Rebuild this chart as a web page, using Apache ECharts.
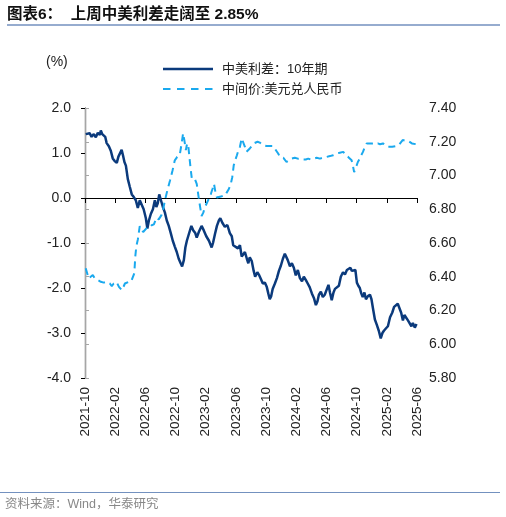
<!DOCTYPE html>
<html><head><meta charset="utf-8">
<script src="https://cdn.jsdelivr.net/npm/echarts@6/dist/echarts.min.js"></script>
<style>html,body{margin:0;padding:0;background:#fff}#c{width:506px;height:517px}</style>
</head><body><div id="c"></div>
<script>
const titleText = '图表6：  上周中美利差走阔至 2.85%';
const sourceText = '资料来源：Wind，华泰研究';
const seriesNames = ['中美利差：10年期', '中间价:美元兑人民币'];
const seriesColors = ['#0b3a7c', '#1aa9ee'];

const spreadDates = ['2021-10-04','2021-10-12','2021-10-20','2021-10-28','2021-11-06','2021-11-14','2021-11-22','2021-11-30','2021-12-04','2021-12-10','2021-12-16','2021-12-22','2021-12-28','2022-01-06','2022-01-14','2022-01-22','2022-01-30','2022-02-07','2022-02-13','2022-02-18','2022-02-25','2022-03-02','2022-03-08','2022-03-14','2022-03-22','2022-03-30','2022-04-07','2022-04-15','2022-04-23','2022-05-01','2022-05-09','2022-05-17','2022-05-25','2022-06-03','2022-06-09','2022-06-15','2022-06-23','2022-07-01','2022-07-09','2022-07-15','2022-07-21','2022-07-27','2022-08-03','2022-08-11','2022-08-19','2022-08-27','2022-09-04','2022-09-12','2022-09-20','2022-09-28','2022-10-06','2022-10-14','2022-10-22','2022-10-28','2022-11-04','2022-11-10','2022-11-16','2022-11-24','2022-12-04','2022-12-12','2022-12-20','2022-12-26','2023-01-04','2023-01-15','2023-01-24','2023-02-03','2023-02-13','2023-02-23','2023-02-28','2023-03-08','2023-03-16','2023-03-24','2023-03-30','2023-04-07','2023-04-17','2023-04-27','2023-05-07','2023-05-15','2023-05-21','2023-05-29','2023-06-09','2023-06-17','2023-06-24','2023-07-01','2023-07-07','2023-07-15','2023-07-21','2023-07-27','2023-08-04','2023-08-12','2023-08-18','2023-08-27','2023-09-04','2023-09-12','2023-09-18','2023-09-26','2023-10-04','2023-10-10','2023-10-16','2023-10-22','2023-10-28','2023-11-06','2023-11-14','2023-11-22','2023-11-30','2023-12-08','2023-12-16','2023-12-22','2023-12-28','2024-01-06','2024-01-14','2024-01-22','2024-01-30','2024-02-07','2024-02-15','2024-02-23','2024-03-01','2024-03-09','2024-03-17','2024-03-25','2024-04-03','2024-04-11','2024-04-19','2024-04-25','2024-05-01','2024-05-09','2024-05-17','2024-05-25','2024-06-03','2024-06-09','2024-06-15','2024-06-22','2024-06-29','2024-07-05','2024-07-13','2024-07-21','2024-07-29','2024-08-07','2024-08-15','2024-08-23','2024-08-31','2024-09-06','2024-09-12','2024-09-18','2024-09-26','2024-10-02','2024-10-08','2024-10-14','2024-10-20','2024-10-26','2024-11-02','2024-11-08','2024-11-16','2024-11-24','2024-11-30','2024-12-06','2024-12-14','2024-12-22','2024-12-30','2025-01-07','2025-01-14','2025-01-20','2025-01-28','2025-02-05','2025-02-13','2025-02-21','2025-02-28','2025-03-07','2025-03-15','2025-03-23','2025-03-29','2025-04-05','2025-04-11','2025-04-17','2025-04-25','2025-05-03','2025-05-09','2025-05-15','2025-05-23','2025-05-30'];
const spreadValues = [1.42,1.38,1.44,1.36,1.42,1.35,1.45,1.40,1.50,1.42,1.46,1.36,1.22,1.15,1.05,0.88,0.82,0.78,0.92,0.95,1.07,0.95,0.80,0.72,0.42,0.25,0.08,0.02,-0.05,-0.22,-0.05,-0.02,-0.25,-0.45,-0.68,-0.50,-0.35,-0.25,-0.05,-0.20,-0.12,0.08,-0.05,-0.20,-0.32,-0.50,-0.62,-0.78,-0.95,-1.08,-1.20,-1.35,-1.45,-1.52,-1.38,-1.10,-0.95,-0.80,-0.62,-0.72,-0.78,-0.88,-0.75,-0.62,-0.72,-0.85,-0.95,-1.10,-1.00,-0.80,-0.62,-0.50,-0.45,-0.55,-0.64,-0.60,-0.78,-0.85,-1.05,-1.02,-1.12,-1.05,-1.30,-1.25,-1.20,-1.35,-1.45,-1.32,-1.40,-1.62,-1.75,-1.65,-1.72,-1.82,-1.90,-1.88,-1.98,-2.12,-2.25,-2.18,-2.02,-1.90,-1.78,-1.62,-1.50,-1.35,-1.24,-1.28,-1.38,-1.52,-1.45,-1.55,-1.72,-1.60,-1.78,-1.85,-1.75,-1.82,-1.90,-1.98,-2.12,-2.22,-2.38,-2.30,-2.15,-2.08,-2.20,-2.15,-2.02,-1.93,-2.10,-2.27,-2.10,-2.02,-2.05,-1.95,-1.75,-1.65,-1.70,-1.60,-1.62,-1.55,-1.62,-1.58,-1.60,-1.88,-1.95,-2.00,-2.12,-2.20,-2.10,-2.25,-2.18,-2.15,-2.25,-2.45,-2.70,-2.82,-2.95,-3.12,-3.00,-2.95,-2.90,-2.85,-2.65,-2.55,-2.42,-2.45,-2.35,-2.38,-2.55,-2.72,-2.60,-2.62,-2.72,-2.68,-2.85,-2.78,-2.88,-2.80];

const cnyDates = ['2021-10-04','2021-10-10','2021-10-16','2021-10-24','2021-11-02','2021-11-10','2021-11-22','2021-12-04','2021-12-16','2021-12-28','2022-01-10','2022-01-18','2022-01-26','2022-02-06','2022-02-15','2022-02-26','2022-03-04','2022-03-10','2022-03-18','2022-03-26','2022-04-04','2022-04-11','2022-04-17','2022-04-21','2022-04-25','2022-05-01','2022-05-09','2022-05-17','2022-05-23','2022-05-29','2022-06-07','2022-06-15','2022-06-26','2022-07-05','2022-07-16','2022-07-25','2022-08-05','2022-08-12','2022-08-19','2022-08-29','2022-09-09','2022-09-19','2022-09-28','2022-10-08','2022-10-18','2022-10-26','2022-11-01','2022-11-06','2022-11-12','2022-11-17','2022-11-22','2022-12-01','2022-12-06','2022-12-12','2022-12-18','2022-12-26','2023-01-05','2023-01-15','2023-01-22','2023-01-28','2023-02-06','2023-02-12','2023-02-20','2023-02-26','2023-03-04','2023-03-10','2023-03-16','2023-03-24','2023-04-01','2023-04-09','2023-04-17','2023-04-25','2023-05-03','2023-05-11','2023-05-17','2023-05-23','2023-05-29','2023-06-05','2023-06-11','2023-06-17','2023-06-24','2023-06-29','2023-07-07','2023-07-13','2023-07-20','2023-07-27','2023-08-04','2023-08-12','2023-08-20','2023-08-28','2023-09-06','2023-09-18','2023-10-03','2023-10-16','2023-10-29','2023-11-10','2023-11-19','2023-11-26','2023-12-02','2023-12-10','2023-12-16','2023-12-23','2024-01-02','2024-01-13','2024-01-26','2024-02-07','2024-02-15','2024-02-27','2024-03-09','2024-03-19','2024-03-29','2024-04-11','2024-04-22','2024-05-05','2024-05-17','2024-06-01','2024-06-15','2024-06-27','2024-07-11','2024-07-25','2024-08-08','2024-08-17','2024-08-28','2024-09-04','2024-09-11','2024-09-16','2024-09-21','2024-09-26','2024-10-01','2024-10-06','2024-10-14','2024-10-20','2024-10-27','2024-11-04','2024-11-11','2024-11-20','2024-12-02','2024-12-14','2024-12-26','2025-01-04','2025-01-16','2025-01-28','2025-02-05','2025-02-13','2025-02-21','2025-02-28','2025-03-10','2025-03-19','2025-03-27','2025-04-04','2025-04-11','2025-04-17','2025-04-26','2025-05-03','2025-05-11','2025-05-19','2025-05-30'];
const cnyValues = [6.45,6.44,6.39,6.40,6.41,6.39,6.38,6.37,6.365,6.37,6.36,6.345,6.36,6.37,6.34,6.32,6.34,6.36,6.35,6.37,6.37,6.38,6.42,6.52,6.58,6.62,6.70,6.71,6.665,6.67,6.69,6.69,6.705,6.71,6.75,6.74,6.765,6.80,6.85,6.91,6.97,7.03,7.09,7.11,7.12,7.19,7.25,7.21,7.15,7.19,7.17,7.04,6.98,6.97,6.98,6.95,6.85,6.76,6.78,6.81,6.84,6.86,6.89,6.92,6.95,6.90,6.87,6.87,6.875,6.88,6.88,6.90,6.92,6.95,6.99,7.06,7.09,7.12,7.15,7.17,7.22,7.21,7.17,7.14,7.13,7.16,7.17,7.19,7.20,7.20,7.195,7.18,7.175,7.175,7.175,7.15,7.13,7.11,7.10,7.105,7.095,7.08,7.09,7.10,7.105,7.10,7.10,7.095,7.095,7.10,7.095,7.10,7.105,7.10,7.105,7.11,7.115,7.12,7.13,7.135,7.14,7.12,7.11,7.10,7.09,7.06,7.02,7.03,7.06,7.08,7.10,7.12,7.14,7.17,7.19,7.19,7.19,7.185,7.19,7.185,7.19,7.18,7.17,7.17,7.17,7.175,7.175,7.18,7.195,7.21,7.20,7.205,7.205,7.195,7.19,7.19,7.185];

// month index since 2021-10-01
function toMonthIndex(d) {
  const [y, m, day] = d.split('-').map(Number);
  const dim = new Date(y, m, 0).getDate();
  return (y - 2021) * 12 + (m - 10) + (day - 1) / dim;
}
function monthLabel(v) {
  const t = Math.round(v) + 9;
  const y = 2021 + Math.floor(t / 12);
  const m = (t % 12) + 1;
  return y + '-' + (m < 10 ? '0' + m : m);
}
const spreadData = spreadDates.map((d, i) => [toMonthIndex(d), spreadValues[i]]);
const cnyData = cnyDates.map((d, i) => [toMonthIndex(d), cnyValues[i]]);

const FONT = '"Liberation Sans", Arial, "Noto Sans CJK SC", sans-serif';
const chart = echarts.init(document.getElementById('c'), null, { renderer: 'canvas' });
chart.setOption({
  animation: false,
  backgroundColor: '#fff',
  textStyle: { fontFamily: FONT },
  grid: { left: 85, right: 89, top: 108, bottom: 139, containLabel: false },
  graphic: [
    { type: 'text', x: 7, y: 15, style: { text: titleText, font: 'bold 15.5px ' + FONT, fill: '#111', verticalAlign: 'middle' } },
    { type: 'line', shape: { x1: 7, y1: 25, x2: 500, y2: 25 }, style: { stroke: '#7391bf', lineWidth: 1.5 } },
    { type: 'text', x: 46, y: 62, style: { text: '(%)', font: '14px ' + FONT, fill: '#222', verticalAlign: 'middle' } },
    // legend
    { type: 'line', shape: { x1: 163, y1: 69, x2: 213, y2: 69 }, style: { stroke: seriesColors[0], lineWidth: 2.5 } },
    { type: 'text', x: 222, y: 69, style: { text: seriesNames[0], font: '13px ' + FONT, fill: '#222', verticalAlign: 'middle' } },
    { type: 'line', shape: { x1: 163, y1: 89, x2: 213, y2: 89 }, style: { stroke: seriesColors[1], lineWidth: 2, lineDash: [7.5, 6.5] } },
    { type: 'text', x: 222, y: 89, style: { text: seriesNames[1], font: '13px ' + FONT, fill: '#222', verticalAlign: 'middle' } },
    { type: 'line', shape: { x1: 0, y1: 492.5, x2: 500, y2: 492.5 }, style: { stroke: '#7391bf', lineWidth: 1.2 } },
    { type: 'text', x: 5, y: 505, style: { text: sourceText, font: '12.5px ' + FONT, fill: '#888', verticalAlign: 'middle' } }
  ],
  xAxis: [
    {
      type: 'value', min: 0, max: 44, interval: 4, position: 'bottom',
      axisLine: { show: false, onZero: false }, axisTick: { show: false }, splitLine: { show: false },
      axisLabel: { rotate: 90, margin: 9, fontSize: 13.5, color: '#222', formatter: monthLabel }
    },
    {
      type: 'value', min: 0, max: 44, interval: 4, position: 'bottom',
      axisLine: { show: true, onZero: true, onZeroAxisIndex: 0, lineStyle: { color: '#000', width: 1.2 } },
      axisTick: { show: true, length: 5, lineStyle: { color: '#000' } },
      axisLabel: { show: false }, splitLine: { show: false }
    }
  ],
  yAxis: [
    {
      type: 'value', min: -4, max: 2, interval: 1, position: 'left',
      axisLine: { show: true, lineStyle: { color: '#000', width: 1.2 } },
      axisTick: { show: true, length: 4, lineStyle: { color: '#000' } },
      splitLine: { show: false },
      axisLabel: { fontSize: 14, color: '#222', margin: 14, formatter: v => v.toFixed(1) }
    },
    {
      type: 'value', min: 5.8, max: 7.4, interval: 0.2, position: 'right',
      axisLine: { show: true, lineStyle: { color: '#a6a6a6', width: 1.2 } },
      axisTick: { show: true, length: 4, lineStyle: { color: '#a6a6a6' } },
      splitLine: { show: false },
      axisLabel: { fontSize: 14, color: '#222', margin: 12, formatter: v => v.toFixed(2) }
    }
  ],
  series: [
    {
      name: seriesNames[0], type: 'line', xAxisIndex: 0, yAxisIndex: 0, data: spreadData,
      symbol: 'none', color: seriesColors[0], lineStyle: { width: 2.5, color: seriesColors[0] }
    },
    {
      name: seriesNames[1], type: 'line', xAxisIndex: 0, yAxisIndex: 1, data: cnyData,
      symbol: 'none', color: seriesColors[1], lineStyle: { width: 2, color: seriesColors[1], type: [7, 5] }
    }
  ]
});
</script></body></html>
